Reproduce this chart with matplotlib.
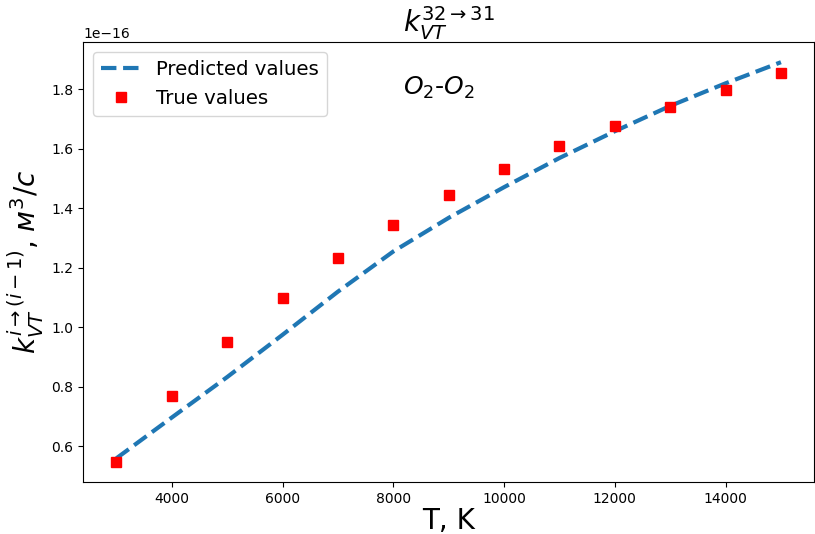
import matplotlib
matplotlib.use("Agg")
import matplotlib.pyplot as plt
import numpy as np

# Температуры, K
T = [3000, 4000, 5000, 6000, 7000, 8000, 9000, 10000, 11000, 12000, 13000, 14000, 15000]

# Предсказанные значения (в единицах 1e-16)
k_pred = [0.560, 0.697, 0.833, 0.975, 1.120, 1.255, 1.368, 1.471, 1.569, 1.659, 1.744, 1.820, 1.891]

# Истинные значения (в единицах 1e-16)
k_true = [0.547, 0.768, 0.950, 1.100, 1.233, 1.344, 1.444, 1.531, 1.608, 1.678, 1.740, 1.797, 1.853]

T = np.array(T)
k_pred = np.array(k_pred) * 1e-16
k_true = np.array(k_true) * 1e-16

fig, ax = plt.subplots(figsize=(8.15, 5.34), dpi=100)

ax.plot(T, k_pred, "--", linewidth=3, label="Predicted values")
ax.plot(T, k_true, "rs", markersize=7.5, label="True values")

ax.set_title(r"$k_{VT}^{32\to31}$", fontsize=20)
ax.set_xlabel("T, K", fontsize=20, labelpad=1)
ax.set_ylabel(r"$k_{VT}^{i\to(i-1)}$, $м^3/с$", fontsize=20)
ax.text(0.487, 0.895, r"$O_2$-$O_2$", transform=ax.transAxes,
        ha="center", va="center", fontsize=18)
ax.legend(loc="upper left", fontsize=14.2)

plt.subplots_adjust(left=0.102, right=0.999, top=0.921, bottom=0.097)
plt.savefig("out.png", dpi=100)
